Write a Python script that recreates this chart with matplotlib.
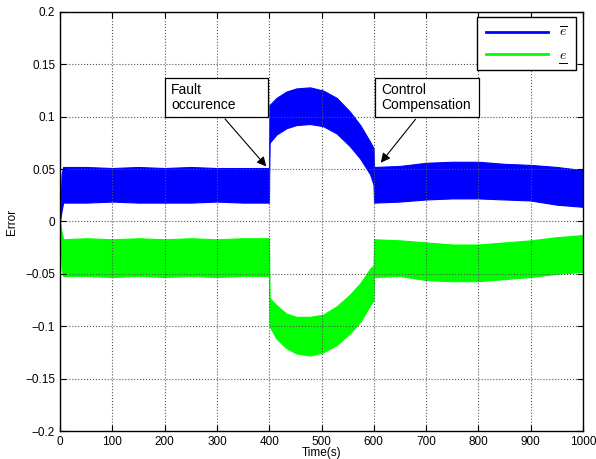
import matplotlib
matplotlib.use('Agg')
import matplotlib.pyplot as plt
from matplotlib.patches import Rectangle
from matplotlib.lines import Line2D

plt.rcParams['font.family'] = ['Liberation Sans', 'DejaVu Sans']
plt.rcParams['mathtext.fontset'] = 'cm'

# envelope of the fast oscillation
t_env = [0, 3, 6, 50, 100, 150, 200, 250, 300, 350, 399.5,
         400.5, 414, 433, 452, 478, 503, 529, 554, 574, 593, 599.5,
         600.5, 650, 700, 750, 800, 850, 900, 950, 1000]
blue_hi = [0.001, 0.045, 0.052, 0.052, 0.051, 0.052, 0.051, 0.052, 0.051, 0.051, 0.051,
           0.111, 0.118, 0.124, 0.127, 0.128, 0.125, 0.118, 0.105, 0.092, 0.076, 0.070,
           0.052, 0.053, 0.056, 0.057, 0.057, 0.055, 0.054, 0.052, 0.049]
blue_lo = [0.001, 0.010, 0.018, 0.018, 0.019, 0.018, 0.018, 0.018, 0.019, 0.018, 0.018,
           0.075, 0.083, 0.089, 0.092, 0.093, 0.091, 0.084, 0.072, 0.060, 0.045, 0.035,
           0.018, 0.019, 0.021, 0.022, 0.022, 0.021, 0.020, 0.016, 0.014]
green_hi = [0.0, -0.010, -0.017, -0.016, -0.017, -0.016, -0.017, -0.016, -0.017, -0.016, -0.016,
            -0.073, -0.080, -0.088, -0.091, -0.091, -0.089, -0.081, -0.070, -0.059, -0.045, -0.042,
            -0.017, -0.018, -0.020, -0.022, -0.022, -0.020, -0.018, -0.015, -0.013]
green_lo = [0.0, -0.045, -0.052, -0.052, -0.053, -0.052, -0.053, -0.052, -0.053, -0.052, -0.052,
            -0.100, -0.112, -0.121, -0.126, -0.128, -0.125, -0.118, -0.107, -0.096, -0.080, -0.075,
            -0.053, -0.052, -0.056, -0.057, -0.057, -0.055, -0.053, -0.050, -0.048]

fig = plt.figure(figsize=(5.96, 4.59), dpi=100)
ax = fig.add_axes([0.1007, 0.061, 0.8775, 0.913])

ax.fill_between(t_env, blue_lo, blue_hi, color='#0000ff', lw=0.8)
ax.fill_between(t_env, green_lo, green_hi, color='#00ff00', lw=0.8)
# legend handles
ax.plot([], [], color='#0000ff', lw=2, label=r'$\overline{e}$')
ax.plot([], [], color='#00ff00', lw=2, label=r'$e$')

ax.set_xlim(0, 1000)
ax.set_ylim(-0.2, 0.2)
ax.set_xticks(range(0, 1001, 100))
ax.set_yticks([-0.2, -0.15, -0.1, -0.05, 0, 0.05, 0.1, 0.15, 0.2])
ax.set_yticklabels(['\u22120.2', '\u22120.15', '\u22120.1', '\u22120.05', '0',
                    '0.05', '0.1', '0.15', '0.2'])
ax.tick_params(direction='in', top=True, right=True, length=4, labelsize=8.5, width=0.8)
ax.grid(True, linestyle=':', color='#555555', lw=0.8)
for s in ax.spines.values():
    s.set_linewidth(1.0)

ax.set_xlabel('Time(s)', fontsize=8.5)
ax.set_ylabel('Error', fontsize=8.5)
ax.xaxis.set_label_coords(0.5, -0.037)
ax.yaxis.set_label_coords(-0.08, 0.5)

leg = ax.legend(loc='upper right', bbox_to_anchor=(0.9866, 0.988), borderaxespad=0,
                fancybox=False, edgecolor='black', framealpha=1, fontsize=10,
                handlelength=4.5, borderpad=0.6, labelspacing=0.6)
leg.get_frame().set_linewidth(1.0)

# text boxes with arrows
ax.add_patch(Rectangle((0.2008, 0.7494), 0.197, 0.093, transform=ax.transAxes,
                       fc='white', ec='black', lw=0.9, zorder=5))
ax.text(0.212, 0.796, 'Fault\noccurence', transform=ax.transAxes, fontsize=10,
        va='center', ha='left', linespacing=1.1, zorder=6)
ax.annotate('', xy=(398, 0.0505), xytext=(312, 0.0999),
            arrowprops=dict(arrowstyle='-|>', color='black', lw=0.8, mutation_scale=14))

ax.add_patch(Rectangle((0.602, 0.7494), 0.199, 0.093, transform=ax.transAxes,
                       fc='white', ec='black', lw=0.9, zorder=5))
ax.text(0.614, 0.796, 'Control\nCompensation', transform=ax.transAxes, fontsize=10,
        va='center', ha='left', linespacing=1.1, zorder=6)
ax.annotate('', xy=(610, 0.054), xytext=(683, 0.0996),
            arrowprops=dict(arrowstyle='-|>', color='black', lw=0.8, mutation_scale=14))

# mathtext has no \underline: draw the bar under the second legend label
fig.canvas.draw()
bb = leg.get_texts()[1].get_window_extent().transformed(fig.transFigure.inverted())
fig.add_artist(Line2D([bb.x0, bb.x1], [bb.y0 - 0.003, bb.y0 - 0.003],
                      transform=fig.transFigure, color='black', lw=0.7))

fig.savefig('out.png', dpi=100)
